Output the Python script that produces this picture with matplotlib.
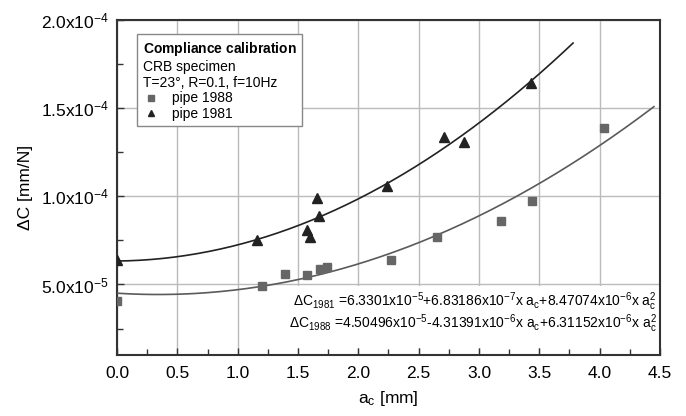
import numpy as np
import matplotlib
matplotlib.use("Agg")
from matplotlib import pyplot as plt
from matplotlib.ticker import MultipleLocator, FuncFormatter
from matplotlib.lines import Line2D
from matplotlib.patches import Rectangle

plt.rcParams['font.family'] = ['Liberation Sans', 'DejaVu Sans']
plt.rcParams['mathtext.fontset'] = 'custom'
plt.rcParams['mathtext.rm'] = 'Liberation Sans'
plt.rcParams['mathtext.it'] = 'Liberation Sans'
plt.rcParams['mathtext.bf'] = 'Liberation Sans:bold'

# pipe 1988 (squares)
a_1988 = [0.0, 1.2, 1.39, 1.575, 1.68, 1.74, 2.27, 2.65, 3.18, 3.44, 4.04]
dc_1988 = [4.09e-5, 4.9e-5, 5.6e-5, 5.55e-5, 5.85e-5, 6.0e-5, 6.36e-5, 7.67e-5,
           8.58e-5, 9.72e-5, 1.386e-4]
# pipe 1981 (triangles)
a_1981 = [0.0, 1.16, 1.575, 1.6, 1.66, 1.67, 2.24, 2.71, 2.88, 3.43]
dc_1981 = [6.36e-5, 7.55e-5, 8.07e-5, 7.7e-5, 9.89e-5, 8.9e-5, 1.06e-4,
           1.337e-4, 1.31e-4, 1.64e-4]

# quadratic fit coefficients (c0, c1, c2) as printed on the chart
fit_1981 = [6.3301e-5, 6.83186e-7, 8.47074e-6]
fit_1988 = [4.50496e-5, -4.31391e-6, 6.31152e-6]
fit_end_1981 = 3.78
fit_end_1988 = 4.45

eq_1981 = "ΔC$_{1981}$ =6.3301x10$^{-5}$+6.83186x10$^{-7}$x a$_{c}$+8.47074x10$^{-6}$x a$_{c}^{2}$"
eq_1988 = "ΔC$_{1988}$ =4.50496x10$^{-5}$-4.31391x10$^{-6}$x a$_{c}$+6.31152x10$^{-6}$x a$_{c}^{2}$"


def sci_fmt(v, pos):
    """Format a tick as 5.0x10^-5."""
    if v <= 0:
        return ''
    e = int(np.floor(np.log10(v) + 1e-9))
    m = v / 10 ** e
    return f"{m:.1f}x10$^{{{e}}}$"


fig = plt.figure(figsize=(6.86, 4.16), dpi=100)
ax = fig.add_axes([0.1706, 0.1466, 0.962 - 0.1706, 0.952 - 0.1466])

xa = np.linspace(0, fit_end_1981, 200)
ax.plot(xa, np.polyval(fit_1981[::-1], xa), color='#222222', lw=1.2, zorder=3)
xb = np.linspace(0, fit_end_1988, 200)
ax.plot(xb, np.polyval(fit_1988[::-1], xb), color='#5a5a5a', lw=1.2, zorder=3)

ax.plot(a_1988, dc_1988, 's', color='#666666', ms=5.5, zorder=4)
ax.plot(a_1981, dc_1981, '^', color='#222222', ms=6.5, zorder=4)

ax.set_xlim(0, 4.5)
ax.set_ylim(1e-5, 2e-4)
ax.xaxis.set_major_locator(MultipleLocator(0.5))
ax.xaxis.set_minor_locator(MultipleLocator(0.25))
ax.yaxis.set_major_locator(MultipleLocator(5e-5))
ax.yaxis.set_minor_locator(MultipleLocator(2.5e-5))
ax.xaxis.set_major_formatter(FuncFormatter(lambda v, p: f"{v:.1f}"))
ax.yaxis.set_major_formatter(FuncFormatter(sci_fmt))
ax.tick_params(which='both', direction='in', labelsize=12.5, colors='#333333',
               labelcolor='black')
ax.tick_params(which='major', length=5, width=1)
ax.tick_params(which='minor', length=4, width=1)
ax.tick_params(axis='x', pad=8)
ax.tick_params(axis='y', pad=6)
ax.grid(True, which='major', color='#bbbbbb', lw=1)
ax.set_axisbelow(True)
for s in ax.spines.values():
    s.set_color('#333333')
    s.set_linewidth(1.5)

ax.set_xlabel("a$_{c}$ [mm]", fontsize=12.5, labelpad=6)
ax.set_ylabel("ΔC [mm/N]", fontsize=12.5, labelpad=6)

# white panel behind the equations hides the grid there
ax.add_patch(Rectangle((0.30, 0.02), 0.695, 0.186, transform=ax.transAxes,
                       facecolor='white', edgecolor='none', zorder=2))
ax.text(0.994, 0.158, eq_1981, transform=ax.transAxes, ha='right', va='center',
        fontsize=10, zorder=5)
ax.text(0.994, 0.093, eq_1988, transform=ax.transAxes, ha='right', va='center',
        fontsize=10, zorder=5)

handles = [Line2D([], [], ls='none', marker='s', color='#666666', ms=4.5),
           Line2D([], [], ls='none', marker='^', color='#222222', ms=5)]
title = (r"$\bf{Compliance\ calibration}$" + "\nCRB specimen\nT=23°, R=0.1, f=10Hz")
leg = ax.legend(handles, ['pipe 1988', 'pipe 1981'], title=title,
                loc='upper left', bbox_to_anchor=(0.037, 0.958), borderaxespad=0,
                fontsize=10, title_fontsize=10, alignment='left',
                fancybox=False, edgecolor='#888888', framealpha=1,
                handlelength=1.2, handletextpad=0.9, borderpad=0.4,
                labelspacing=0.1)
leg.get_frame().set_linewidth(1)
leg.set_zorder(6)

fig.savefig("out.png", dpi=100)
